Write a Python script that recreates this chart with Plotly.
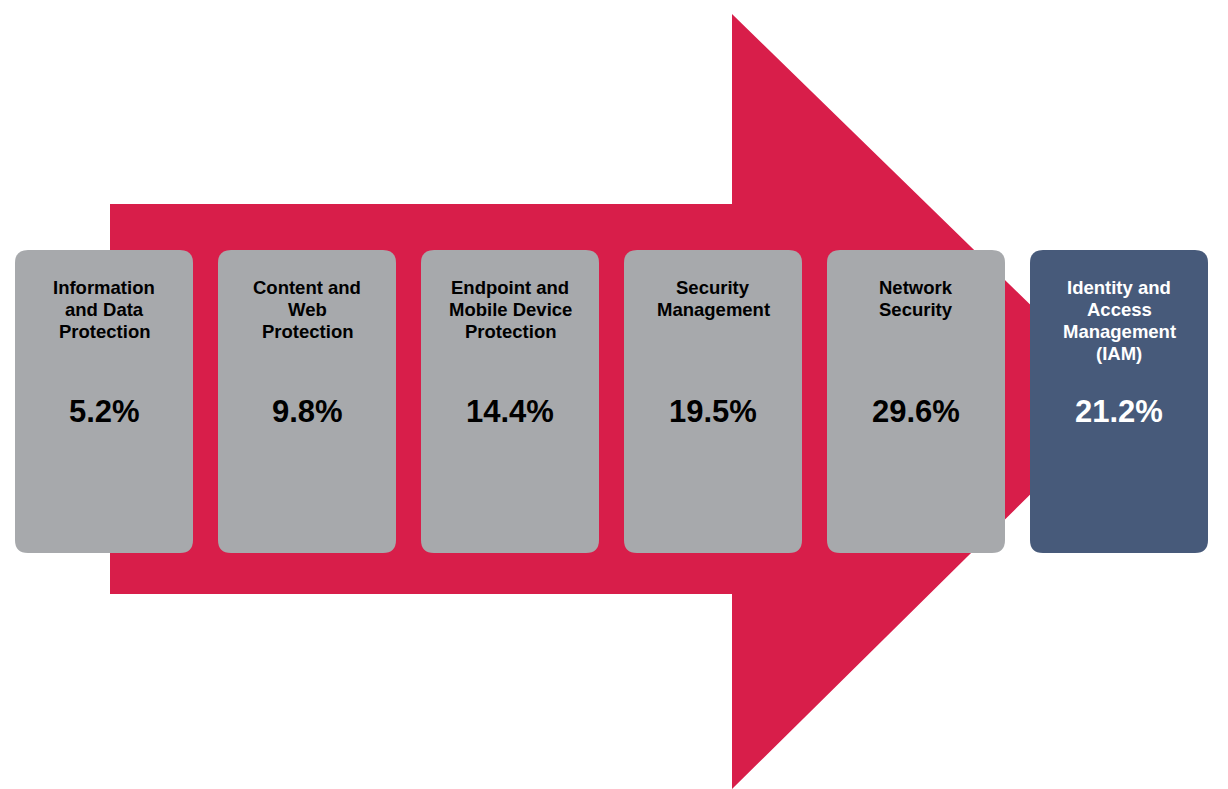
import plotly.graph_objects as go

categories = [
    "Information<br>and Data<br>Protection",
    "Content and<br>Web<br>Protection",
    "Endpoint and<br>Mobile Device<br>Protection",
    "Security<br>Management",
    "Network<br>Security",
    "Identity and<br>Access<br>Management<br>(IAM)",
]
values = [5.2, 9.8, 14.4, 19.5, 29.6, 21.2]
highlight = [False, False, False, False, False, True]

W, H = 1228, 789
RED = "#D81E4A"
GRAY = "#A7A9AC"
DARK = "#475A7A"

fig = go.Figure()

# Arrow
shaft_x0, shaft_x1, shaft_y0, shaft_y1 = 110, 732, 204, 594
head_top, head_bot = 14, 789
tip_x, tip_y = 1127, 399
arrow_path = (f"M {shaft_x0},{shaft_y0} L {shaft_x1},{shaft_y0} L {shaft_x1},{head_top} "
              f"L {tip_x},{tip_y} L {shaft_x1},{head_bot} L {shaft_x1},{shaft_y1} "
              f"L {shaft_x0},{shaft_y1} Z")
fig.add_shape(type="path", path=arrow_path, fillcolor=RED, line=dict(width=0), layer="below")


def rounded(x0, y0, x1, y1, r):
    return (f"M {x0+r},{y0} L {x1-r},{y0} Q {x1},{y0} {x1},{y0+r} "
            f"L {x1},{y1-r} Q {x1},{y1} {x1-r},{y1} L {x0+r},{y1} "
            f"Q {x0},{y1} {x0},{y1-r} L {x0},{y0+r} Q {x0},{y0} {x0+r},{y0} Z")


box_x0, box_w, box_step = 15, 178, 203
box_y0, box_y1 = 250, 553
font = "Liberation Sans, Arial, sans-serif"

for i, (cat, val, hl) in enumerate(zip(categories, values, highlight)):
    x0 = box_x0 + i * box_step
    x1 = x0 + box_w
    cx = (x0 + x1) / 2
    fig.add_shape(type="path", path=rounded(x0, box_y0, x1, box_y1, 13),
                  fillcolor=DARK if hl else GRAY, line=dict(width=0), layer="above")
    color = "white" if hl else "black"
    for j, line in enumerate(cat.split("<br>")):
        fig.add_annotation(x=cx, y=287 + 22.3 * j, text=f"<b>{line}</b>", showarrow=False,
                           xanchor="center", yanchor="middle",
                           font=dict(family=font, size=18.5, color=color))
    fig.add_annotation(x=cx, y=411, text=f"<b>{val:.1f}%</b>", showarrow=False,
                       xanchor="center", yanchor="middle",
                       font=dict(family=font, size=31, color=color))

fig.update_layout(
    width=W, height=H,
    margin=dict(l=0, r=0, t=0, b=0),
    paper_bgcolor="white", plot_bgcolor="white",
    showlegend=False,
    xaxis=dict(range=[0, W], visible=False, fixedrange=True),
    yaxis=dict(range=[H, 0], visible=False, fixedrange=True),
)

fig.write_html("out.html", config={"displayModeBar": False})
